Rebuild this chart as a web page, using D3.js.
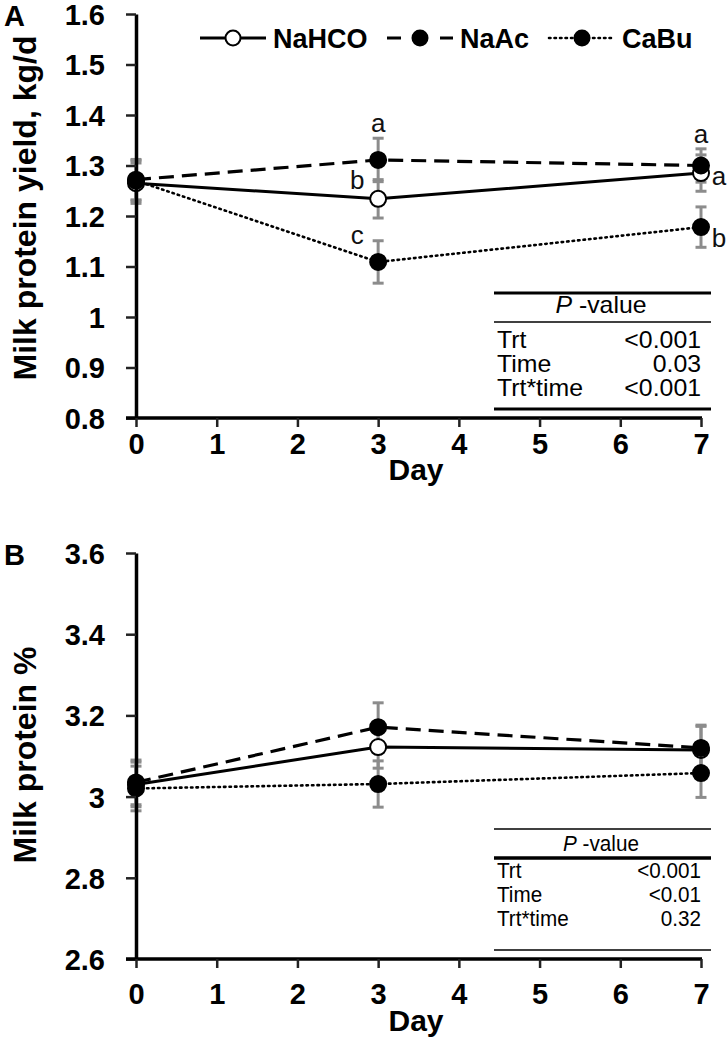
<!DOCTYPE html>
<html>
<head>
<meta charset="utf-8">
<script src="https://cdn.jsdelivr.net/npm/d3@7/dist/d3.min.js"></script>
<style>
  body { margin: 0; background: #fff; }
  svg { display: block; font-family: Arial, "Liberation Sans", sans-serif; }
</style>
</head>
<body>
<svg id="chart" width="728" height="1050"></svg>
<script>
// ---- data ----
var days = [0, 3, 7]
var seriesNames = ['NaHCO', 'NaAc', 'CaBu']

var yieldNaHCO = [1.265, 1.234, 1.285]
var yieldNaAc  = [1.272, 1.311, 1.300]
var yieldCaBu  = [1.270, 1.109, 1.178]
var yieldErrNaHCO = [0.040, 0.038, 0.036]
var yieldErrNaAc  = [0.040, 0.043, 0.033]
var yieldErrCaBu  = [0.040, 0.042, 0.040]

var protNaHCO = [3.030, 3.122, 3.115]
var protNaAc  = [3.035, 3.171, 3.120]
var protCaBu  = [3.020, 3.031, 3.058]
var protErrNaHCO = [0.055, 0.052, 0.058]
var protErrNaAc  = [0.055, 0.060, 0.056]
var protErrCaBu  = [0.055, 0.057, 0.060]

var xTicks = [0, 1, 2, 3, 4, 5, 6, 7]
var yTicksA = [0.8, 0.9, 1, 1.1, 1.2, 1.3, 1.4, 1.5, 1.6]
var yTicksB = [2.6, 2.8, 3, 3.2, 3.4, 3.6]

// letters (day, series index, text, where)
var lettersA = [
  { day: 3, s: 1, t: 'a', where: 'above' },
  { day: 3, s: 0, t: 'b', where: 'upleft' },
  { day: 3, s: 2, t: 'c', where: 'upleft2' },
  { day: 7, s: 1, t: 'a', where: 'above' },
  { day: 7, s: 0, t: 'a', where: 'right' },
  { day: 7, s: 2, t: 'b', where: 'right2' }
]

var pRowsA = [['Trt', '<0.001'], ['Time', '0.03'], ['Trt*time', '<0.001']]
var pRowsB = [['Trt', '<0.001'], ['Time', '<0.01'], ['Trt*time', '0.32']]

// ---- styles ----
var lineStyle = [
  { dash: null, width: 3 },
  { dash: '15,8', width: 3.2 },
  { dash: '1.5,4', width: 2.6 }
]
var font = 'Arial, "Liberation Sans", sans-serif'

var svg = d3.select('#chart')

function drawPanel(opt) {
  var x = d3.scaleLinear().domain([0, 7]).range([136, 701])
  var y = d3.scaleLinear().domain(opt.domain).range([opt.bottom, opt.top])
  var g = svg.append('g')

  // error bars
  opt.series.forEach(function (vals, si) {
    var errs = opt.errors[si]
    var eb = g.append('g').attr('stroke', '#8c8c8c').attr('stroke-width', 3)
    days.forEach(function (d, i) {
      var cx = x(d), hi = y(vals[i] + errs[i]), lo = y(vals[i] - errs[i])
      eb.append('line').attr('x1', cx).attr('x2', cx).attr('y1', hi).attr('y2', lo)
      eb.append('line').attr('x1', cx - 5.5).attr('x2', cx + 5.5).attr('y1', hi).attr('y2', hi)
      eb.append('line').attr('x1', cx - 5.5).attr('x2', cx + 5.5).attr('y1', lo).attr('y2', lo)
    })
  })

  // lines
  var line = d3.line().x(function (d) { return x(d[0]) }).y(function (d) { return y(d[1]) })
  opt.series.forEach(function (vals, si) {
    var st = lineStyle[si]
    g.append('path')
      .datum(days.map(function (d, i) { return [d, vals[i]] }))
      .attr('d', line).attr('fill', 'none').attr('stroke', '#000')
      .attr('stroke-width', st.width)
      .attr('stroke-dasharray', st.dash)
      .attr('stroke-linecap', si === 2 ? 'round' : 'butt')
  })

  // markers
  opt.series.forEach(function (vals, si) {
    g.selectAll(null).data(days).enter().append('circle')
      .attr('cx', function (d) { return x(d) })
      .attr('cy', function (d, i) { return y(vals[i]) })
      .attr('r', 8)
      .attr('fill', si === 0 ? '#fff' : '#000')
      .attr('stroke', '#000').attr('stroke-width', 2)
  })

  // axes
  var yAxis = g.append('g').attr('transform', 'translate(136,0)')
    .call(d3.axisLeft(y).tickValues(opt.yTicks).tickSize(10).tickSizeOuter(0)
      .tickFormat(function (d) { return String(+d.toFixed(1)) }))
  var xAxis = g.append('g').attr('transform', 'translate(0,' + opt.bottom + ')')
    .call(d3.axisBottom(x).tickValues(xTicks).tickSize(9).tickSizeOuter(0)
      .tickFormat(d3.format('d')))
  ;[yAxis, xAxis].forEach(function (ax) {
    ax.attr('font-size', null).attr('font-family', null)
    ax.select('.domain').attr('stroke-width', 3.5).attr('stroke', '#000')
    ax.selectAll('.tick line').attr('stroke-width', 2.5).attr('stroke', '#222')
    ax.selectAll('.tick text').style('font-size', '29px').style('font-weight', 'bold')
      .style('font-family', font).attr('fill', '#000')
  })
  yAxis.selectAll('.tick text').attr('x', -31).attr('dy', '0.36em')
  xAxis.selectAll('.tick text').attr('y', opt.xLabelGap)
  xAxis.select('.domain').attr('d', 'M126,0H702')

  g.append('text').attr('x', 416).attr('y', opt.bottom + opt.dayGap)
    .attr('text-anchor', 'middle').style('font-size', '30px').attr('font-weight', 'bold')
    .text('Day')

  g.append('text')
    .attr('transform', 'translate(36,' + opt.titleY + ') rotate(-90)')
    .attr('text-anchor', 'middle').style('font-size', opt.titleSize).attr('font-weight', 'bold')
    .text(opt.title)

  g.append('text').attr('x', 4).attr('y', opt.top + 12)
    .style('font-size', '29px').attr('font-weight', 'bold').text(opt.panel)

  // p-value table
  var tb = g.append('g').style('font-size', opt.tableSize).attr('fill', '#000')
  opt.tableLines.forEach(function (l) {
    tb.append('line').attr('x1', 494).attr('x2', 711).attr('y1', l[0]).attr('y2', l[0])
      .attr('stroke', '#000').attr('stroke-width', l[1])
  })
  function put(px, py, anchor) {
    return tb.append('text')
      .attr('transform', 'translate(' + px + ',' + py + ') scale(' + opt.squeeze + ',1)')
      .attr('text-anchor', anchor)
  }
  var head = put(601, opt.headY, 'middle')
  head.append('tspan').attr('font-style', 'italic').text('P')
  head.append('tspan').text(' -value')
  opt.rows.forEach(function (r, i) {
    put(497, opt.rowY + i * opt.rowStep, 'start').text(r[0])
    put(701, opt.rowY + i * opt.rowStep, 'end').text(r[1])
  })

  return { x: x, y: y, g: g }
}

var pa = drawPanel({
  panel: 'A', domain: [0.8, 1.6], top: 14, bottom: 418, yTicks: yTicksA,
  series: [yieldNaHCO, yieldNaAc, yieldCaBu],
  errors: [yieldErrNaHCO, yieldErrNaAc, yieldErrCaBu],
  title: 'Milk protein yield, kg/d', titleY: 208, titleSize: '32px',
  xLabelGap: 15, dayGap: 62,
  squeeze: 1.08, tableSize: '23px', rowStep: 24,
  tableLines: [[293, 3], [322, 1.5], [409, 3]],
  headY: 313, rowY: 348, rows: pRowsA
})

var pb = drawPanel({
  panel: 'B', domain: [2.6, 3.6], top: 553, bottom: 959, yTicks: yTicksB,
  series: [protNaHCO, protNaAc, protCaBu],
  errors: [protErrNaHCO, protErrNaAc, protErrCaBu],
  title: 'Milk protein %', titleY: 755, titleSize: '32px',
  xLabelGap: 24, dayGap: 72,
  squeeze: 0.92, tableSize: '22.5px', rowStep: 24,
  tableLines: [[829, 1.5], [858, 3.5], [950, 1.5]],
  headY: 851, rowY: 878, rows: pRowsB
})

// significance letters on panel A
var yieldSeries = [yieldNaHCO, yieldNaAc, yieldCaBu]
var yieldErrs = [yieldErrNaHCO, yieldErrNaAc, yieldErrCaBu]
var letterOffset = {
  above:   function (cx, cy, top) { return [cx, top - 6] },
  upleft:  function (cx, cy) { return [cx - 21, cy - 10] },
  upleft2: function (cx, cy) { return [cx - 21, cy - 18] },
  right:   function (cx, cy) { return [cx + 18, cy + 12] },
  right2:  function (cx, cy) { return [cx + 18, cy + 20] }
}
pa.g.selectAll('text.letter').data(lettersA).enter().append('text')
  .attr('class', 'letter').style('font-size', '26px').attr('text-anchor', 'middle').attr('fill', '#111')
  .each(function (d) {
    var i = days.indexOf(d.day)
    var v = yieldSeries[d.s][i]
    var cx = pa.x(d.day), cy = pa.y(v), top = pa.y(v + yieldErrs[d.s][i])
    var p = letterOffset[d.where](cx, cy, top)
    d3.select(this).attr('x', p[0]).attr('y', p[1]).text(d.t)
  })

// legend
var legendX = [200, 387, 549]
var leg = svg.append('g').attr('transform', 'translate(0,38)')
seriesNames.forEach(function (name, si) {
  var lx = legendX[si], st = lineStyle[si]
  leg.append('line').attr('x1', lx).attr('x2', lx + 66).attr('y1', 0).attr('y2', 0)
    .attr('stroke', '#000').attr('stroke-width', st.width)
    .attr('stroke-dasharray', si === 1 ? '14,39' : st.dash)
    .attr('stroke-linecap', si === 2 ? 'round' : 'butt')
  leg.append('circle').attr('cx', lx + 33).attr('cy', 0).attr('r', 7.5)
    .attr('fill', si === 0 ? '#fff' : '#000').attr('stroke', '#000').attr('stroke-width', 2)
  leg.append('text').attr('x', lx + 73).attr('y', 10)
    .style('font-size', '27px').attr('font-weight', 'bold').text(name)
})
</script>
</body>
</html>
